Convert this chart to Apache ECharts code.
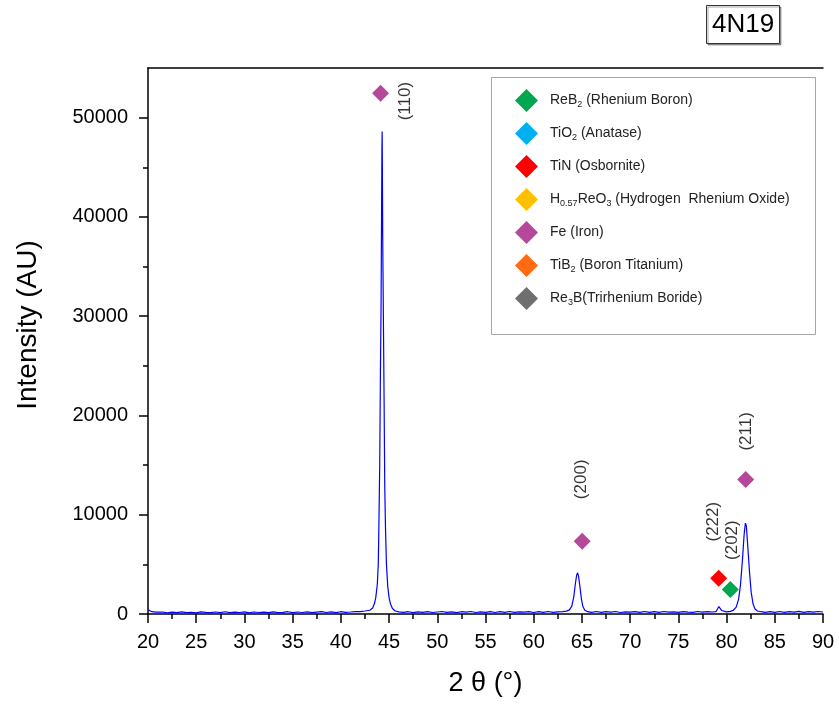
<!DOCTYPE html>
<html>
<head>
<meta charset="utf-8">
<title>4N19 XRD</title>
<script src="https://cdn.jsdelivr.net/npm/echarts@6/dist/echarts.min.js"></script>
<style>
  html, body { margin: 0; padding: 0; background: #fff; }
  #main { width: 839px; height: 706px; }
</style>
</head>
<body>
<div id="main"></div>
<script>
// sample name in the box, top right
var sampleName = '4N19';

// diffraction pattern: 2θ (°) and intensity (AU)
var twoTheta = [
  20.0, 20.1, 20.2, 20.4, 20.6, 20.8, 21.0, 21.5, 22.0, 22.5, 23.0, 23.5, 24.0, 24.5,
  25.0, 25.5, 26.0, 26.5, 27.0, 27.5, 28.0, 28.5, 29.0, 29.5, 30.0, 30.5, 31.0, 31.5,
  32.0, 32.5, 33.0, 33.5, 34.0, 34.5, 35.0, 35.5, 36.0, 36.5, 37.0, 37.5, 38.0, 38.5,
  39.0, 39.5, 40.0, 40.5, 41.0, 41.5, 42.0, 42.5, 43.0, 43.3, 43.5, 43.62, 43.78, 43.88,
  43.94, 44.03, 44.1, 44.17, 44.22, 44.26, 44.28, 44.3, 44.34, 44.4, 44.48, 44.55,
  44.63, 44.73, 44.86, 45.0, 45.15, 45.35, 45.6, 46.0, 46.5, 47.0, 47.5, 48.0, 48.5,
  49.0, 49.5, 50.0, 50.5, 51.0, 51.5, 52.0, 52.5, 53.0, 53.5, 54.0, 54.5, 55.0, 55.5,
  56.0, 56.5, 57.0, 57.5, 58.0, 58.5, 59.0, 59.5, 60.0, 60.5, 61.0, 61.5, 62.0, 62.5,
  63.0, 63.4, 63.7, 63.95, 64.15, 64.3, 64.45, 64.55, 64.65, 64.8, 64.95, 65.1, 65.3,
  65.6, 66.0, 66.5, 67.0, 67.5, 68.0, 68.5, 69.0, 69.5, 70.0, 70.5, 71.0, 71.5, 72.0,
  72.5, 73.0, 73.5, 74.0, 74.5, 75.0, 75.5, 76.0, 76.5, 77.0, 77.5, 78.0, 78.5, 78.9,
  79.1, 79.2, 79.28, 79.38, 79.5, 79.7, 80.0, 80.4, 80.7, 81.0, 81.25, 81.45, 81.65,
  81.82, 81.95, 82.05, 82.2, 82.38, 82.55, 82.75, 82.95, 83.2, 83.6, 84.0, 84.5, 85.0,
  85.5, 86.0, 86.5, 87.0, 87.5, 88.0, 88.5, 89.0, 89.5, 90.0
];
var intensity = [
  430, 380, 310, 230, 170, 190, 130, 200, 120, 180, 140, 220, 130, 170,
  120, 210, 160, 130, 200, 140, 230, 130, 190, 150, 210, 120, 200, 150,
  180, 130, 220, 140, 170, 230, 130, 200, 150, 220, 140, 190, 240, 150,
  210, 140, 230, 170, 200, 240, 230, 300, 380, 600, 1100, 1650, 3000, 5000,
  8600, 15000, 24000, 31000, 40000, 47000, 48600, 46200, 38000, 31000, 22000, 13000,
  8600, 5000, 2800, 1650, 1000, 550, 330, 220, 170, 230, 140, 210, 160,
  240, 150, 200, 250, 160, 210, 140, 230, 180, 250, 150, 220, 170, 240,
  150, 230, 170, 250, 160, 220, 180, 240, 150, 230, 170, 250, 160, 220,
  240, 290, 420, 800, 1700, 2900, 3900, 4150, 3800, 2700, 1500, 750, 380,
  230, 170, 250, 160, 230, 180, 250, 150, 220, 190, 240, 160, 250, 170,
  230, 160, 250, 180, 220, 170, 240, 190, 160, 250, 180, 230, 200, 230,
  400, 750, 850, 550, 350, 260, 220, 270, 380, 700, 1500, 3000, 5500,
  8000, 9150, 8900, 6800, 4200, 2200, 1000, 500, 300, 230, 170, 240, 160,
  250, 170, 230, 180, 260, 170, 240, 190, 250, 200
];

// identified phases (legend order) and their diamond markers
var phaseNames = ['ReB2', 'TiO2', 'TiN', 'H0.57ReO3', 'Fe', 'TiB2', 'Re3B'];
var phaseColors = ['#00a650', '#00b0f0', '#ff0000', '#ffc000', '#b5489a', '#ff6a13', '#6f6f6f'];
var phaseLabels = [
  '{n|ReB}{s|2}{n| (Rhenium Boron)}',
  '{n|TiO}{s|2}{n| (Anatase)}',
  '{n|TiN (Osbornite)}',
  '{n|H}{s|0.57}{n|ReO}{s|3}{n| (Hydrogen  Rhenium Oxide)}',
  '{n|Fe (Iron)}',
  '{n|TiB}{s|2}{n| (Boron Titanium)}',
  '{n|Re}{s|3}{n|B(Trirhenium Boride)}'
];
var phaseTheta = [[80.39], [], [79.18], [], [44.12, 65.03, 81.98], [], []];
var phaseHeight = [[2480], [], [3590], [], [52460, 7340, 13540], [], []];

// Miller indices written next to the peaks
var hklText = ['(110)', '(200)', '(222)', '(202)', '(211)'];
var hklTheta = [46.66, 64.98, 78.66, 80.63, 82.0];
var hklHeight = [51660, 13570, 9300, 7440, 18400];

// y axis ticks
var yTickValues = [0, 10000, 20000, 30000, 40000, 50000];
var yMinorValues = [5000, 15000, 25000, 35000, 45000];

var fontMain = "'Liberation Sans', Arial, sans-serif";
var black = {color: '#000', width: 1.5};

var chart = echarts.init(document.getElementById('main'));

var series = [{
  name: 'pattern',
  type: 'line',
  data: twoTheta.map(function (t, i) { return [t, intensity[i]]; }),
  showSymbol: false,
  symbol: 'none',
  lineStyle: {color: '#0000ff', width: 1.2},
  itemStyle: {color: '#0000ff'},
  silent: true,
  z: 2
}];
phaseNames.forEach(function (name, k) {
  series.push({
    name: name,
    type: 'scatter',
    symbol: 'diamond',
    symbolSize: 17,
    itemStyle: {color: phaseColors[k], opacity: 1},
    data: phaseTheta[k].map(function (t, i) { return [t, phaseHeight[k][i]]; }),
    z: 3
  });
});
// hkl labels, rotated like the original
series.push({
  name: 'hkl',
  type: 'scatter',
  symbolSize: 1,
  itemStyle: {color: 'rgba(0,0,0,0)'},
  silent: true,
  label: {
    show: true,
    position: 'inside',
    rotate: 90,
    fontSize: 17,
    color: '#000',
    fontFamily: fontMain,
    formatter: function (p) { return p.data[2]; }
  },
  data: hklTheta.map(function (t, i) { return [t, hklHeight[i], hklText[i]]; }),
  z: 4
});

var option = {
  animation: false,
  backgroundColor: '#fff',
  textStyle: {fontFamily: fontMain},
  title: {
    text: sampleName,
    left: 706,
    top: 5,
    padding: [7, 6, 6, 6],
    borderColor: '#333',
    borderWidth: 1,
    backgroundColor: '#fff',
    shadowColor: 'rgba(0,0,0,0.35)',
    shadowOffsetX: 1.5,
    shadowOffsetY: 1.5,
    textStyle: {fontSize: 26, fontWeight: 'normal', color: '#000', fontFamily: fontMain}
  },
  graphic: [{
    type: 'rect',
    left: 491,
    top: 77,
    z: -1,
    shape: {width: 324, height: 257},
    style: {fill: '#fff', stroke: '#a6a6a6', lineWidth: 1}
  }],
  legend: {
    orient: 'vertical',
    left: 510,
    top: 84,
    itemWidth: 23,
    itemHeight: 23,
    itemGap: 10,
    selectedMode: false,
    data: phaseNames.map(function (n) { return {name: n, icon: 'diamond'}; }),
    formatter: function (name) { return phaseLabels[phaseNames.indexOf(name)]; },
    textStyle: {
      padding: [0, 0, 0, 7],
      rich: {
        n: {fontSize: 14, lineHeight: 18, color: '#222', fontFamily: fontMain},
        s: {fontSize: 9, lineHeight: 10, verticalAlign: 'bottom', color: '#222', fontFamily: fontMain}
      }
    }
  },
  grid: {left: 148, right: 16, top: 68, bottom: 92, containLabel: false},
  xAxis: [{
    type: 'value',
    min: 20,
    max: 90,
    interval: 5,
    name: '2 θ (°)',
    nameLocation: 'middle',
    nameGap: 56,
    nameTextStyle: {fontSize: 27, color: '#000', fontFamily: fontMain},
    axisLine: {onZero: false, lineStyle: black},
    axisTick: {inside: false, length: 9, lineStyle: black},
    minorTick: {show: true, splitNumber: 2, length: 5, lineStyle: black},
    axisLabel: {fontSize: 20, margin: 18, color: '#000', fontFamily: fontMain},
    splitLine: {show: false}
  }, {
    type: 'value',
    position: 'top',
    min: 20,
    max: 90,
    axisLine: {show: true, onZero: false, lineStyle: black},
    axisTick: {show: false},
    axisLabel: {show: false},
    splitLine: {show: false}
  }],
  yAxis: [{
    type: 'value',
    min: 0,
    max: 55000,
    name: 'Intensity (AU)',
    nameLocation: 'middle',
    nameGap: 106,
    nameTextStyle: {fontSize: 28, color: '#000', fontFamily: fontMain, padding: [0, 0, 0, 32]},
    axisLine: {show: true, onZero: false, lineStyle: black},
    axisTick: {show: true, length: 9, customValues: yTickValues, lineStyle: black},
    axisLabel: {
      customValues: yTickValues,
      fontSize: 20,
      margin: 20,
      color: '#000',
      fontFamily: fontMain,
      formatter: function (v) { return String(v); }
    },
    splitLine: {show: false}
  }, {
    type: 'value',
    min: 0,
    max: 55000,
    position: 'left',
    axisLine: {show: false},
    axisTick: {show: true, length: 5, customValues: yMinorValues, lineStyle: black},
    axisLabel: {show: false},
    splitLine: {show: false}
  }],
  series: series
};

chart.setOption(option);
</script>
</body>
</html>
